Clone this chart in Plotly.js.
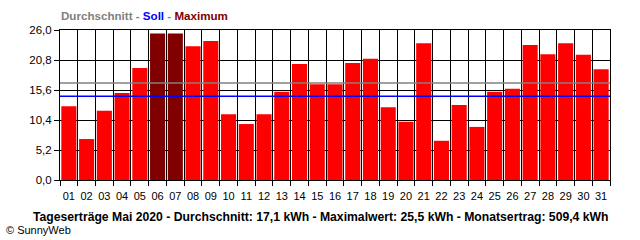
<!DOCTYPE html>
<html>
<head>
<meta charset="utf-8">
<script src="https://cdn.plot.ly/plotly-3.0.1.min.js"></script>
<style>html,body{margin:0;padding:0;background:#fff;}#chart{width:640px;height:240px;}</style>
</head>
<body>
<div id="chart"></div>
<script>
const days = ["01","02","03","04","05","06","07","08","09","10","11","12","13","14","15","16","17","18","19","20","21","22","23","24","25","26","27","28","29","30","31"];
const dailyYield = [12.8,7.1,12.0,15.1,19.4,25.4,25.4,23.2,24.1,11.4,9.7,11.4,15.3,20.1,16.6,16.6,20.3,21.0,12.6,10.1,23.7,6.8,13.0,9.2,15.3,15.8,23.4,21.8,23.7,21.7,19.2];
const averageValue = 16.8;
const targetValue = 14.5;
const maxValue = 25.4;
const yTicks = [0, 5.2, 10.4, 15.6, 20.8, 26.0];
const yTickText = ["0,0","5,2","10,4","15,6","20,8","26,0"];

const colors = dailyYield.map(v => v >= maxValue ? "#800000" : "#ff0000");
const font = "Liberation Sans, Arial, sans-serif";

const trace = {
  type: "bar",
  x: days,
  y: dailyYield,
  marker: {color: colors, line: {width: 0}},
  hoverinfo: "x+y"
};

const layout = {
  width: 640, height: 240,
  margin: {l: 60, r: 30, t: 30, b: 60},
  paper_bgcolor: "#fff", plot_bgcolor: "#fff",
  showlegend: false,
  bargap: 0.15,
  font: {family: font, size: 11, color: "#000"},
  title: {
    text: '<b><span style="color:#808080">Durchschnitt - </span><span style="color:#0000ff">Soll</span><span style="color:#808080"> - </span><span style="color:#800000">Maximum</span></b>',
    x: 61/640, xanchor: "left", xref: "container",
    y: 1 - 16/240, yanchor: "middle", yref: "container",
    font: {family: font, size: 11.6}
  },
  xaxis: {
    type: "category",
    tickson: "boundaries",
    tickangle: 0,
    ticklabelstandoff: 6,
    showgrid: true, gridcolor: "#000", gridwidth: 1,
    showline: true, linecolor: "#000", linewidth: 1, mirror: true,
    ticks: "outside", ticklen: 5, tickcolor: "#000",
    tickfont: {family: font, size: 11},
    range: [-0.5, 30.5],
    fixedrange: true
  },
  yaxis: {
    range: [0, 26],
    tickvals: yTicks, ticktext: yTickText,
    showgrid: true, gridcolor: "#000", gridwidth: 1,
    showline: true, linecolor: "#000", linewidth: 1, mirror: true,
    ticks: "outside", ticklen: 5, tickcolor: "#000",
    tickfont: {family: font, size: 11.5},
    zeroline: false,
    fixedrange: true
  },
  shapes: [
    {type: "line", xref: "paper", x0: 0, x1: 1, yref: "y", y0: averageValue, y1: averageValue, line: {color: "#808080", width: 1.5}, layer: "above"},
    {type: "line", xref: "paper", x0: 0, x1: 1, yref: "y", y0: targetValue, y1: targetValue, line: {color: "#0000ff", width: 1.5}, layer: "above"}
  ],
  annotations: [
    {text: "<b>Tageserträge Mai 2020 - Durchschnitt: 17,1 kWh - Maximalwert: 25,5 kWh - Monatsertrag: 509,4 kWh</b>",
     xref: "paper", x: (320.5-60)/550, xanchor: "center",
     yref: "paper", y: (180-217)/150, yanchor: "middle",
     showarrow: false, font: {family: font, size: 12.2, color: "#000"}},
    {text: "© SunnyWeb",
     xref: "paper", x: (4-60)/550, xanchor: "left",
     yref: "paper", y: (180-229.5)/150, yanchor: "middle",
     showarrow: false, font: {family: font, size: 11, color: "#000"}}
  ]
};

Plotly.newPlot("chart", [trace], layout, {staticPlot: true, displayModeBar: false});
</script>
</body>
</html>
